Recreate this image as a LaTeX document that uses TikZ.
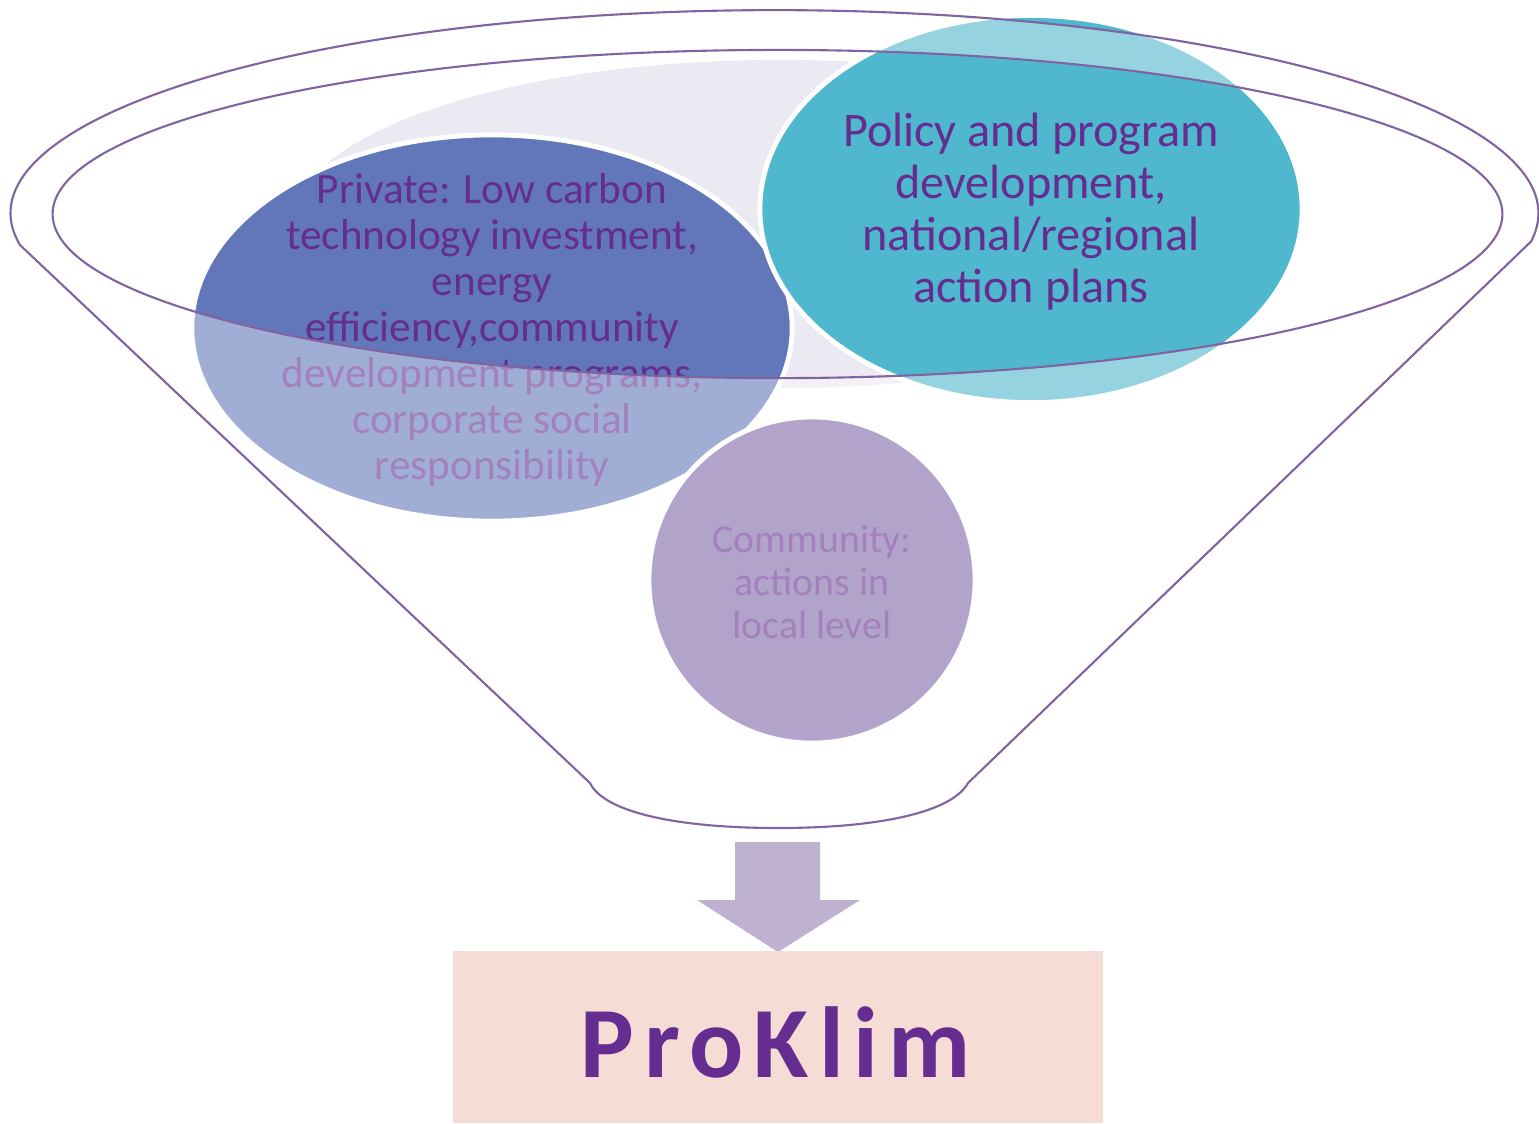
\documentclass[tikz,border=0pt]{standalone}
\usepackage{fontspec}
\setmainfont{Carlito}
\usetikzlibrary{shapes.geometric}
\definecolor{funnelline}{HTML}{8064A2}
\definecolor{txtpurple}{HTML}{662D91}
\definecolor{privblue}{HTML}{6177B9}
\definecolor{policyteal}{HTML}{4FB7CE}
\definecolor{commviolet}{HTML}{8066A8}
\definecolor{mouthgray}{HTML}{EBE9F1}
\definecolor{arrowlilac}{HTML}{BFB1D0}
\definecolor{boxpink}{HTML}{F5DCD5}
\begin{document}
\begin{tikzpicture}[x=0.01cm,y=-0.01cm,
    blob/.style={ellipse, draw=white, line width=1.4pt, inner sep=0pt},
    label/.style={text=txtpurple, align=center, inner sep=0pt}]
    \useasboundingbox (0,0) rectangle (1539,1123);
    % mouth and the three actors
    \node[ellipse, fill=mouthgray, inner sep=0pt, minimum width=9.74cm, minimum height=3.28cm] (mouth) at (780,224) {};
    \node[blob, fill=privblue, minimum width=6cm, minimum height=3.86cm] (priv) at (492,328) {};
    \node[blob, fill=policyteal, minimum width=5.42cm, minimum height=3.87cm] (policy) at (1031,209) {};
    \node[blob, fill=commviolet, minimum width=3.26cm, minimum height=3.26cm] (comm) at (812,580) {};
    \node[label, font=\fontsize{12.3}{13.05}\selectfont] (privtxt) at (492,330) {Private: Low carbon\\technology investment,\\energy\\efficiency,community\\development programs,\\corporate social\\responsibility};
    \node[label, font=\fontsize{13.7}{14.8}\selectfont] (policytxt) at (1031,212) {Policy and program\\development,\\national/regional\\action plans};
    \node[label, font=\fontsize{11.3}{12.2}\selectfont] (commtxt) at (812,582) {Community:\\actions in\\local level};
    % funnel body, washed over the circles
    \fill[white, fill opacity=0.4, even odd rule] (20,245) arc[start angle=189, end angle=-8, x radius=7.635cm, y radius=2.03cm]
        -- (968,783) .. controls (952,812) and (880,828) .. (778,828) .. controls (676,828) and (604,812) .. (590,783) -- cycle
        (777.5,214) ellipse [x radius=7.245cm, y radius=1.64cm];
    \draw[funnelline, line width=0.6pt] (20,245) arc[start angle=189, end angle=-8, x radius=7.635cm, y radius=2.03cm]
        -- (968,783) .. controls (952,812) and (880,828) .. (778,828) .. controls (676,828) and (604,812) .. (590,783) -- cycle;
    \draw[funnelline, line width=0.6pt] (777.5,214) ellipse [x radius=7.245cm, y radius=1.64cm];
    % arrow and result
    \fill[arrowlilac] (735,842) -- (820,842) -- (820,900) -- (860,900) -- (778,952) -- (697,900) -- (735,900) -- cycle;
    \node[fill=boxpink, inner sep=0pt, minimum width=6.5cm, minimum height=1.72cm] (result) at (778,1037) {};
    \node[text=txtpurple, inner sep=0pt, font=\fontsize{28.7}{30}\selectfont\bfseries] (resulttxt) at (776,1042) {\addfontfeature{LetterSpace=10}ProKlim};
\end{tikzpicture}
\end{document}
